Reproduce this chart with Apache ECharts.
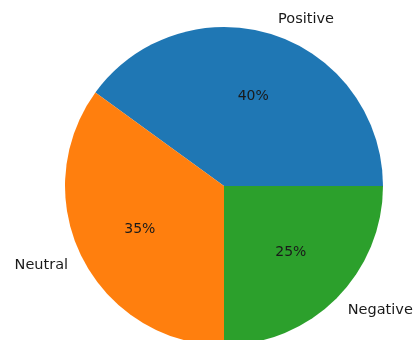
<!DOCTYPE html>
<html>
<head>
<meta charset="utf-8">
<script src="https://cdn.jsdelivr.net/npm/echarts@6/dist/echarts.min.js"></script>
<style>
  html, body { margin: 0; padding: 0; background: #fff; }
  #chart_pie { width: 414px; height: 340px; }
</style>
</head>
<body>
<div id="chart_pie"></div>
<script>
var categories = ["Positive", "Neutral", "Negative"];
var shares = [40, 35, 25];
var colors = ["#1f77b4", "#ff7f0e", "#2ca02c"];

var pieData = categories.map(function(name, i) {
    return { name: name, value: shares[i], itemStyle: { color: colors[i] } };
});

var pieChart = echarts.init(document.getElementById('chart_pie'));

var option = {
    animation: false,
    textStyle: { fontFamily: "DejaVu Sans" },
    series: [{
        type: 'pie',
        center: [224, 186],
        radius: 159,
        startAngle: 0,
        clockwise: false,
        avoidLabelOverlap: false,
        silent: true,
        itemStyle: { borderWidth: 0 },
        label: {
            position: 'outside',
            formatter: '{b}',
            fontSize: 14.5,
            color: '#1a1a1a',
            distanceToLabelLine: 0
        },
        labelLine: { show: false, length: 16, length2: 0 },
        data: pieData
    }, {
        // inner percent labels, about 0.6 of the radius
        type: 'pie',
        center: [224, 186],
        radius: 183,
        startAngle: 0,
        clockwise: false,
        silent: true,
        itemStyle: { color: 'rgba(0,0,0,0)', borderWidth: 0 },
        label: {
            position: 'inside',
            formatter: function(p) { return Math.round(p.percent) + '%'; },
            fontSize: 14,
            color: '#1a1a1a'
        },
        labelLine: { show: false },
        data: categories.map(function(name, i) { return { name: name, value: shares[i] }; })
    }]
};

pieChart.setOption(option);
</script>
</body>
</html>
